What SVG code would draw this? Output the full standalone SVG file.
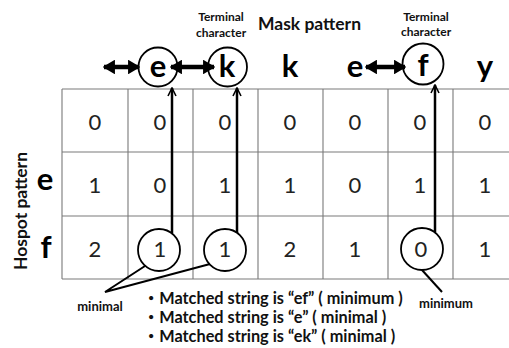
<svg xmlns="http://www.w3.org/2000/svg" width="509" height="348" viewBox="0 0 509 348">
<style>
.grid{stroke:#7a7a7a;stroke-width:1.1;fill:none}
.num{font-family:Lato,"Liberation Sans",sans-serif;font-size:22px;fill:#222;text-anchor:middle}
.big{font-family:Lato,"Liberation Sans",sans-serif;font-size:31px;font-weight:bold;fill:#000;text-anchor:middle}
.lbl{font-family:Lato,"Liberation Sans",sans-serif;font-size:16.5px;font-weight:bold;fill:#111}
.small{font-family:Lato,"Liberation Sans",sans-serif;font-size:12px;font-weight:bold;fill:#111;text-anchor:middle}
.note{font-family:Lato,"Liberation Sans",sans-serif;font-size:13px;font-weight:bold;fill:#111;text-anchor:middle}
.bul{font-family:Lato,"Noto Sans CJK JP",sans-serif;font-size:16.3px;font-weight:bold;fill:#111}
.ring{fill:none;stroke:#000;stroke-width:1.8}
.dbl{stroke:#000;stroke-width:4.5;fill:none;marker-start:url(#dh);marker-end:url(#dh)}
.up{stroke:#000;stroke-width:2.5;fill:none;marker-end:url(#vh)}
.lead{stroke:#000;stroke-width:2;fill:none}
</style>
<defs>
<marker id="dh" viewBox="0 0 10 12" refX="9" refY="6" markerWidth="2.7" markerHeight="3.3" orient="auto-start-reverse" markerUnits="strokeWidth">
<path d="M0,0 L10,6 L0,12 Z" fill="#000"/>
</marker>
<marker id="vh" viewBox="0 0 10 10" refX="9" refY="5" markerWidth="4" markerHeight="4" orient="auto" markerUnits="strokeWidth">
<path d="M1,1 L9,5 L1,9" fill="none" stroke="#000" stroke-width="1.6"/>
</marker>
</defs>
<rect width="509" height="348" fill="#fff"/>

<g id="table">
<path class="grid" d="M62,89H509M62,152H509M62,216H509M62,279H509M62,89V279M128,89V279M193,89V279M258,89V279M323,89V279M388,89V279M453,89V279"/>
<g id="row1">
<text class="num" x="95" y="130">0</text><text class="num" x="160" y="130">0</text><text class="num" x="225" y="130">0</text><text class="num" x="290" y="130">0</text><text class="num" x="355" y="130">0</text><text class="num" x="420" y="130">0</text><text class="num" x="485" y="130">0</text>
</g>
<g id="row2">
<text class="num" x="95" y="193">1</text><text class="num" x="160" y="193">0</text><text class="num" x="225" y="193">1</text><text class="num" x="290" y="193">1</text><text class="num" x="355" y="193">0</text><text class="num" x="420" y="193">1</text><text class="num" x="485" y="193">1</text>
</g>
<g id="row3">
<text class="num" x="95" y="257">2</text><text class="num" x="290" y="257">2</text><text class="num" x="355" y="257">1</text><text class="num" x="485" y="257">1</text>
</g>
</g>

<g id="cell-f-e"><circle class="ring" cx="159" cy="250" r="21"/><text class="num" x="160" y="257">1</text></g>
<g id="cell-f-k"><circle class="ring" cx="225" cy="250" r="21"/><text class="num" x="225" y="257">1</text></g>
<g id="cell-f-f"><circle class="ring" cx="422" cy="249" r="21"/><text class="num" x="421" y="257">0</text></g>

<g id="header">
<text class="lbl" x="258" y="30" textLength="103" lengthAdjust="spacingAndGlyphs">Mask pattern</text>
<text class="big" x="290" y="77">k</text>
<text class="big" x="355" y="77">e</text>
<text class="big" x="485" y="77">y</text>
</g>
<g id="node-e"><circle class="ring" cx="158" cy="67" r="19.5"/><text class="big" x="158" y="77">e</text></g>
<g id="node-k"><circle class="ring" cx="227.5" cy="67" r="19.5"/><text class="big" x="227" y="77">k</text>
<text class="small" x="221" y="21">Terminal</text><text class="small" x="221" y="37">character</text></g>
<g id="node-f"><circle class="ring" cx="423" cy="64" r="20.5"/><text class="big" x="423" y="76">f</text>
<text class="small" x="426" y="21">Terminal</text><text class="small" x="426" y="36">character</text></g>

<g id="rowlabels">
<text class="lbl" transform="translate(27,211) rotate(-90)" text-anchor="middle" textLength="118" lengthAdjust="spacingAndGlyphs">Hospot pattern</text>
<text class="big" x="45" y="190">e</text>
<text class="big" x="46" y="258">f</text>
</g>

<g id="connectors">
<line class="dbl" x1="104" y1="67" x2="139" y2="67"/>
<line class="dbl" x1="171" y1="67" x2="214" y2="67"/>
<line class="dbl" x1="366" y1="67" x2="405" y2="67"/>
<line class="up" x1="172" y1="233" x2="172" y2="88"/>
<line class="up" x1="237" y1="233" x2="237" y2="88"/>
<line class="up" x1="435" y1="232" x2="435" y2="85"/>
<path class="lead" d="M145,266L105,292L210,264"/>
<line class="lead" x1="422" y1="270" x2="442" y2="292"/>
</g>

<g id="notes">
<text class="note" x="100" y="311">minimal</text>
<text class="note" x="446" y="308">minimum</text>
<text class="bul" x="143" y="304">・Matched string is “ef” ( minimum )</text>
<text class="bul" x="143" y="323">・Matched string is “e” ( minimal )</text>
<text class="bul" x="143" y="342">・Matched string is “ek” ( minimal )</text>
</g>
</svg>
